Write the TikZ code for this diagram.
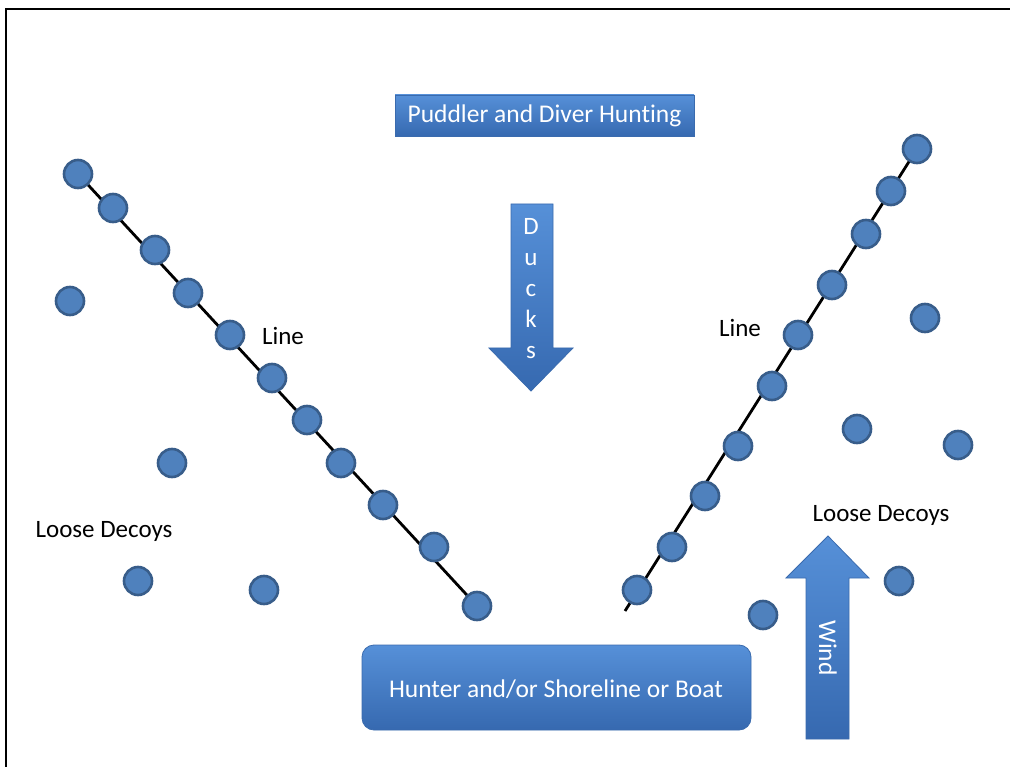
\documentclass[tikz,border=0pt]{standalone}
\usepackage{fontspec}
\setmainfont{Carlito}[Ligatures={NoCommon}]
\begin{document}
\begin{tikzpicture}[x=1pt,y=-1pt,
  decoy/.style={circle,draw=decoyedge,fill=decoyfill,line width=2.6pt,minimum size=28pt,inner sep=0pt},
  lbl/.style={font=\fontsize{25}{30}\selectfont,text=black,inner sep=0pt},
  wlbl/.style={font=\fontsize{25.5}{30}\selectfont,text=white,inner sep=0pt},
  bluebox/.style={top color=boxtop,bottom color=boxbot,draw=boxedge,line width=0.8pt},
  guide/.style={line width=2.8pt,black}]
\definecolor{decoyfill}{HTML}{4F81BD}
\definecolor{decoyedge}{HTML}{385D8A}
\definecolor{boxtop}{HTML}{5690D8}
\definecolor{boxbot}{HTML}{3669B0}
\definecolor{boxedge}{HTML}{3A6BAE}
\useasboundingbox (0,0) rectangle (1010,767);
\fill[white] (0,0) rectangle (1010,767);
% frame
\draw[line width=2.2pt] (6,767) -- (6,9) -- (1010,9);
% title
\path[bluebox] (395,95) rectangle (694,136);
\node[wlbl] (title) at (544.5,115.5) {Puddler and Diver Hunting};
% ducks arrow
\path[bluebox] (511,204) -- (553,204) -- (553,348) -- (573,348) -- (531,391) -- (489,348) -- (511,348) -- cycle;
\node[wlbl,align=center,font=\fontsize{25}{31}\selectfont] (ducks) at (531,289) {D\\u\\c\\k\\s};
% wind arrow
\path[bluebox] (806,739) -- (849,739) -- (849,578) -- (869,578) -- (828,536) -- (786,578) -- (806,578) -- cycle;
\node[wlbl,rotate=-90] (wind) at (828,648) {Wind};
% hunter box
\path[bluebox,rounded corners=12pt] (362,645) rectangle (751,730);
\node[wlbl] (hunter) at (556,689) {Hunter and/or Shoreline or Boat};
% left line
\coordinate (lend) at (477,606);
\draw[guide] (78,174) -- (lend);
\foreach \p [count=\i] in {(78,174),(113,208),(155,250),(188,293),(230,335),(272,378),(307,420),(341,463),(383,505),(434,547),(477,606)}
  \node[decoy] (l\i) at \p {};
% right line
\coordinate (rend) at (625,611);
\draw[guide] (rend) -- (917,149);
\foreach \p [count=\i] in {(917,149),(891,191),(866,234),(832,285),(798,335),(772,386),(738,446),(705,496),(672,547),(637,590)}
  \node[decoy] (r\i) at \p {};
% loose decoys
\foreach \p [count=\i] in {(70,301),(172,463),(138,581),(264,590),(925,318),(857,429),(958,445),(899,581),(763,615)}
  \node[decoy] (d\i) at \p {};
% labels
\node[lbl] (line1) at (283,336) {Line};
\node[lbl] (line2) at (740,328) {Line};
\node[lbl] (loose1) at (104,531) {Loose Decoys};
\node[lbl] (loose2) at (881,515) {Loose Decoys};
\end{tikzpicture}
\end{document}
